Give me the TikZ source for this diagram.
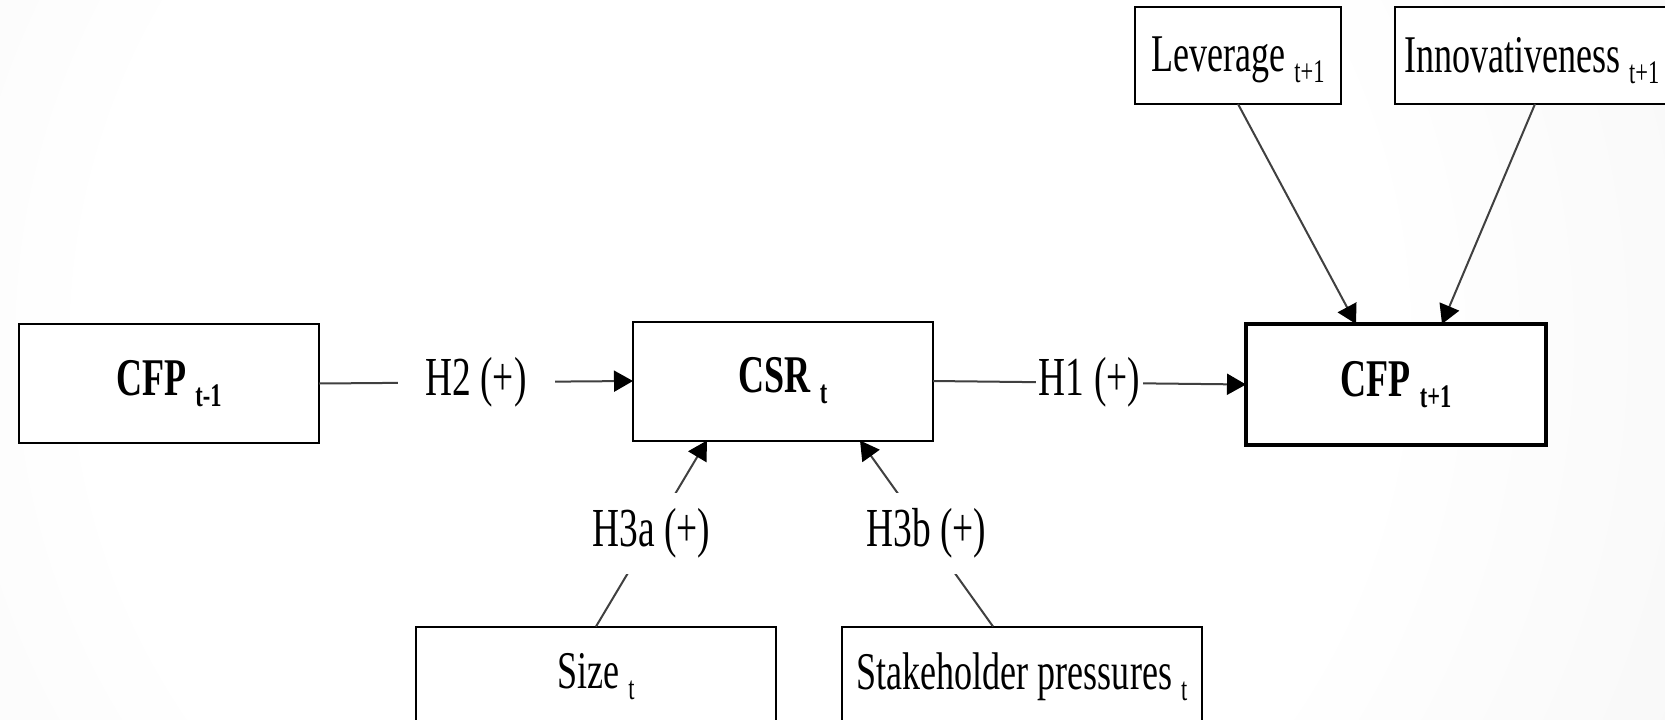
\documentclass[tikz,border=0pt]{standalone}
\usepackage{fontspec}
\setmainfont{Liberation Serif}[FakeStretch=0.68]
\usetikzlibrary{arrows.meta}
\pgfdeclareradialshading{bgshade}{\pgfpoint{0bp}{0bp}}{color(0bp)=(white); color(14bp)=(white); color(50bp)=(black!12)}
\newcommand\subt[1]{\raisebox{-11pt}{\fontsize{33}{33}\selectfont #1}}
\tikzset{
  box/.style={draw, line width=2pt, fill=white, inner sep=0pt, outer sep=0pt,
    font=\fontsize{53}{62}\selectfont},
  lbl/.style={fill=white, inner sep=3pt, font=\fontsize{55}{62}\selectfont},
  conn/.style={line width=2pt, draw=black!75},
  arr/.style={conn, -{Triangle[length=19pt,width=21pt,color=black]}}
}
\begin{document}
\begin{tikzpicture}[x=1pt,y=-1pt]
\useasboundingbox (0,0) rectangle (1665,720);
\begin{scope}
\clip (0,0) rectangle (1665,720);
\shade[shading=bgshade] (740,340) circle (1150);
\end{scope}
% boxes
\node[box, minimum width=300pt, minimum height=119pt] (cfpprev) at (169,383.5) {\textbf{CFP \subt{t-1}}};
\node[box, minimum width=300pt, minimum height=119pt] (csr) at (783,381) {\textbf{CSR \subt{t}}};
\node[box, line width=3.5pt, minimum width=300pt, minimum height=121pt] (cfpnext) at (1396,384.5) {\textbf{CFP \subt{t+1}}};
\node[box, minimum width=206pt, minimum height=97pt, text depth=2pt] (lev) at (1238,55.5) {Leverage \subt{t+1}};
\node[box, anchor=west, minimum height=97pt, inner xsep=9pt, text depth=2pt] (innov) at (1395,55.5) {\makebox[285pt][l]{Innovativeness \subt{t+1}}};
\node[box, minimum width=360pt, minimum height=100pt] (size) at (596,676.5) {Size \subt{t}};
\node[box, minimum width=360pt, minimum height=100pt] (stake) at (1022,676.5) {Stakeholder pressures \subt{t}};
% connectors
\draw[arr] (cfpprev.east) -- node[lbl, midway, minimum width=157pt, minimum height=75pt] {H2 (+)\hspace{14pt}} (csr.west);
\draw[arr] (csr.east) -- node[lbl, midway, inner xsep=3pt] {H1 (+)} (cfpnext.west);
\draw[arr] (size.north) -- node[lbl, midway, minimum height=81pt, inner xsep=2pt] {H3a (+)} ([xshift=-76pt]csr.south);
\draw[arr] ([xshift=-29pt]stake.north) -- node[lbl, midway, minimum height=81pt, inner xsep=2pt] {H3b (+)} ([xshift=77pt]csr.south);
\draw[arr] (lev.south) -- ([xshift=-40pt]cfpnext.north);
\draw[arr] ([xshift=140pt]innov.south west) -- ([xshift=46pt]cfpnext.north);
\end{tikzpicture}
\end{document}
